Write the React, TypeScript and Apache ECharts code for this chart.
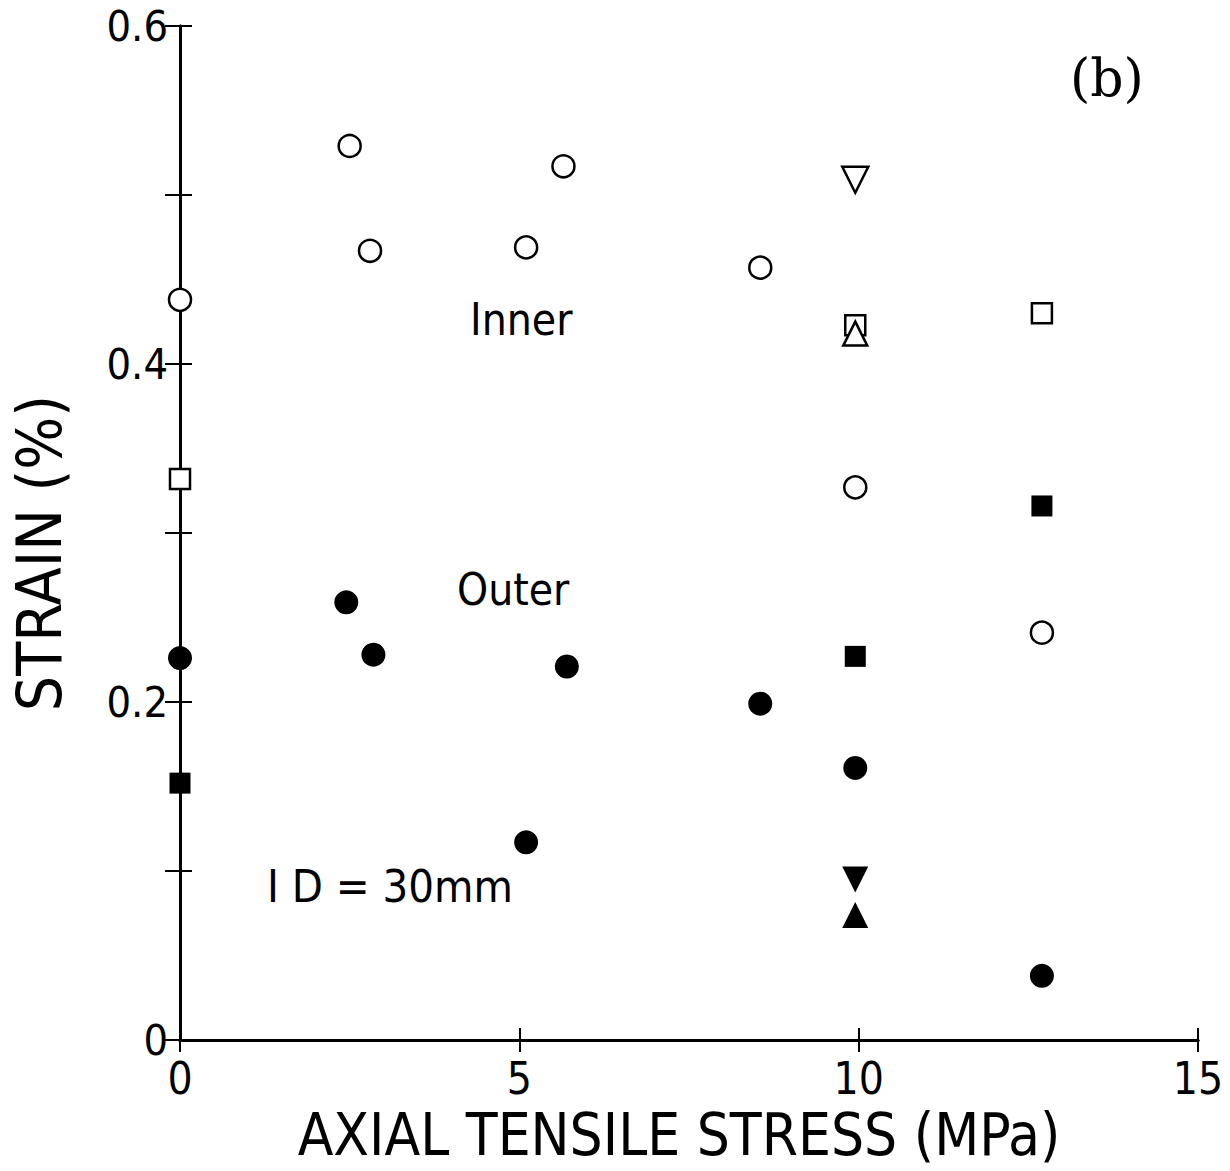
import React, { useEffect, useRef } from "react";
import * as echarts from "echarts";

// x: axial tensile stress (MPa), y: strain (%)
const innerOpenCircles: [number, number][] = [
  [0, 0.438], [2.5, 0.529], [2.8, 0.467], [5.1, 0.469], [5.65, 0.517], [8.55, 0.457], [9.95, 0.327], [12.7, 0.241],
];
const outerFilledCircles: [number, number][] = [
  [0, 0.226], [2.45, 0.259], [2.85, 0.228], [5.7, 0.221], [8.55, 0.199], [5.1, 0.117], [9.95, 0.161], [12.7, 0.038],
];
const openSquares: [number, number][] = [[0, 0.332], [9.95, 0.423], [12.7, 0.43]];
const filledSquares: [number, number][] = [[0, 0.152], [9.95, 0.227], [12.7, 0.316]];
const openDownTriangles: [number, number][] = [[9.95, 0.509]];
const openUpTriangles: [number, number][] = [[9.95, 0.418]];
const filledDownTriangles: [number, number][] = [[9.95, 0.095]];
const filledUpTriangles: [number, number][] = [[9.95, 0.074]];

const xTickLabels = ["0", "5", "10", "15"];
const yTickLabels = ["0", "0.2", "0.4", "0.6"];

const FONT = "'DejaVu Sans Condensed', 'DejaVu Sans', sans-serif";

export default function App() {
  const ref = useRef<HTMLDivElement>(null);
  useEffect(() => {
    if (!ref.current) return;
    const chart = echarts.init(ref.current, undefined, { renderer: "svg" });
    const axisLine = { show: true, lineStyle: { color: "#000", width: 3 } };
    const tick = { show: true, inside: true, length: 12, lineStyle: { color: "#000", width: 2 } };
    const open = (sym: string, size: number, data: [number, number][], rot = 0) => ({
      type: "scatter",
      symbol: sym,
      symbolSize: size,
      symbolRotate: rot,
      data,
      itemStyle: { color: "#fff", borderColor: "#000", borderWidth: 2.5, opacity: 1 },
      z: 3,
    });
    const filled = (sym: string, size: number, data: [number, number][], rot = 0) => ({
      type: "scatter",
      symbol: sym,
      symbolSize: size,
      symbolRotate: rot,
      data,
      itemStyle: { color: "#000", opacity: 1 },
      z: 3,
    });
    chart.setOption({
      animation: false,
      backgroundColor: "#fff",
      grid: { left: 177, right: 32, top: 26, bottom: 131, containLabel: false },
      xAxis: [
        {
          type: "value",
          position: "bottom",
          min: 0,
          max: 15,
          interval: 5,
          axisLine,
          axisTick: tick,
          splitLine: { show: false },
          axisLabel: {
            color: "#000",
            fontSize: 44,
            fontFamily: FONT,
            margin: 16,
            formatter: (v: number) => xTickLabels[Math.round(v / 5)] ?? "",
          },
          name: "AXIAL TENSILE STRESS (MPa)",
          nameLocation: "middle",
          nameGap: 66,
          nameTextStyle: { color: "#000", fontSize: 58, fontFamily: FONT, padding: [0, 20, 0, 0] },
        },
        {
          type: "value",
          position: "top",
          min: 0,
          max: 15,
          interval: 5,
          axisLine,
          axisTick: tick,
          splitLine: { show: false },
          axisLabel: { show: false },
        },
      ],
      yAxis: [
        {
          type: "value",
          position: "left",
          min: 0,
          max: 0.6,
          interval: 0.1,
          axisLine,
          axisTick: tick,
          splitLine: { show: false },
          axisLabel: {
            color: "#000",
            fontSize: 43,
            lineHeight: 30,
            fontFamily: FONT,
            margin: 12,
            formatter: (v: number) => {
              const k = Math.round(v * 10);
              return k % 2 === 0 ? yTickLabels[k / 2] ?? "" : "";
            },
          },
          name: "STRAIN (%)",
          nameLocation: "middle",
          nameRotate: 90,
          nameGap: 110,
          nameTextStyle: { color: "#000", fontSize: 62, fontFamily: FONT, padding: [0, 40, 0, 0] },
        },
        {
          type: "value",
          position: "right",
          min: 0,
          max: 0.6,
          interval: 0.1,
          axisLine,
          axisTick: { ...tick, length: 15 },
          splitLine: { show: false },
          axisLabel: { show: false },
        },
      ],
      series: [
        open("circle", 22, innerOpenCircles),
        filled("circle", 24, outerFilledCircles),
        open("rect", 20, openSquares),
        filled("rect", 21, filledSquares),
        open("triangle", 26, openDownTriangles, 180),
        open("triangle", 24, openUpTriangles),
        filled("triangle", 26, filledDownTriangles, 180),
        filled("triangle", 26, filledUpTriangles),
      ],
      graphic: [
        { type: "text", left: 1070, top: 52, style: { text: "(b)", font: "52px 'DejaVu Serif', 'Liberation Serif', serif", fill: "#000" } },
        { type: "text", left: 470, top: 297, style: { text: "Inner", font: `44px ${FONT}`, fill: "#000" } },
        { type: "text", left: 457, top: 567, style: { text: "Outer", font: `44px ${FONT}`, fill: "#000" } },
        { type: "text", left: 267, top: 864, style: { text: "I D = 30mm", font: `45px ${FONT}`, fill: "#000" } },
      ],
    });
    return () => chart.dispose();
  }, []);
  return <div ref={ref} style={{ position: "absolute", left: 0, top: 0, width: 1230, height: 1171 }} />;
}
